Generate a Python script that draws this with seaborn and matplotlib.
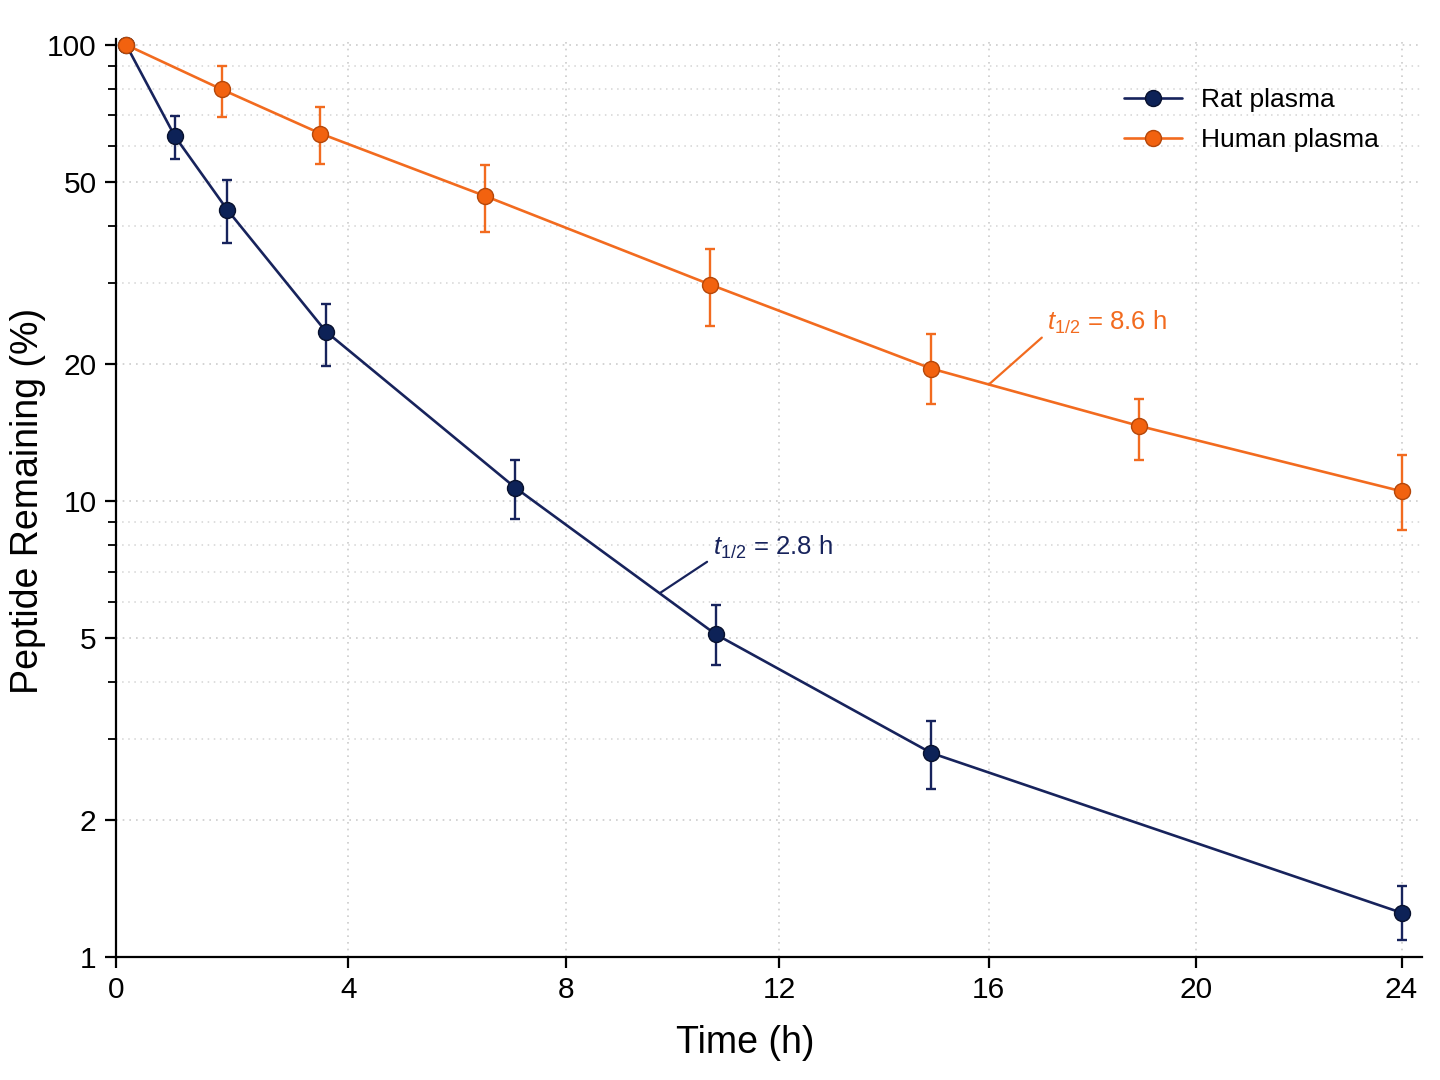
import numpy as np
import pandas as pd
import matplotlib
matplotlib.use("Agg")
from matplotlib import pyplot as plt
from matplotlib.ticker import LogLocator, NullFormatter, FixedLocator, FixedFormatter
import seaborn as sb

# data (time in h, % peptide remaining)
rat_time = [0.15, 0.95, 1.85, 3.6, 7.05, 10.8, 14.9, 24]
rat_mean = [100, 63, 43.5, 23.5, 10.7, 5.1, 2.8, 1.25]
rat_low = [100, 56.2, 36.8, 19.8, 9.15, 4.37, 2.33, 1.09]
rat_high = [100, 69.7, 50.5, 27.0, 12.3, 5.91, 3.30, 1.43]

human_time = [0.15, 1.75, 3.5, 6.5, 10.7, 14.9, 18.9, 24]
human_mean = [100, 79.9, 63.9, 46.6, 29.8, 19.5, 14.6, 10.5]
human_low = [100, 69.4, 54.8, 38.9, 24.2, 16.3, 12.3, 8.63]
human_high = [100, 89.8, 73.2, 54.4, 35.6, 23.2, 16.7, 12.6]

x_ticks = [0, 4, 8, 12, 16, 20, 24]
y_ticks = [1, 2, 5, 10, 20, 50, 100]

# half-life labels and where their leader lines touch the curves
rat_half = "2.8"
human_half = "8.6"
rat_anno_at = (9.75, 6.28)
human_anno_at = (16.0, 18.0)

NAVY = "#17235c"
NAVY_FILL = "#0d2257"
NAVY_EDGE = "#08112e"
ORANGE = "#f26b1f"
ORANGE_FILL = "#f2620f"
ORANGE_EDGE = "#b4470a"

sb.set_style("ticks")
plt.rcParams["font.family"] = ["Liberation Sans", "DejaVu Sans"]
plt.rcParams["mathtext.fontset"] = "custom"
plt.rcParams["mathtext.it"] = "Liberation Sans:italic"
plt.rcParams["mathtext.rm"] = "Liberation Sans"
plt.rcParams["text.color"] = "black"
plt.rcParams["axes.labelcolor"] = "black"
plt.rcParams["xtick.color"] = "black"
plt.rcParams["ytick.color"] = "black"

fig = plt.figure(figsize=(14.4, 10.8), dpi=100)
ax = fig.add_axes([0.0806, 0.1139, 0.9069, 0.850])

rat = pd.DataFrame({"time": rat_time, "mean": rat_mean})
human = pd.DataFrame({"time": human_time, "mean": human_mean})

# error bars first, so markers sit on top
ax.errorbar(rat_time, rat_mean,
            yerr=[np.array(rat_mean) - np.array(rat_low), np.array(rat_high) - np.array(rat_mean)],
            fmt="none", ecolor=NAVY, elinewidth=1.7, capsize=3.6, capthick=1.7, zorder=2)
ax.errorbar(human_time, human_mean,
            yerr=[np.array(human_mean) - np.array(human_low), np.array(human_high) - np.array(human_mean)],
            fmt="none", ecolor=ORANGE, elinewidth=1.7, capsize=3.6, capthick=1.7, zorder=2)

sb.lineplot(x="time", y="mean", data=rat, ax=ax, color=NAVY, lw=1.9, marker="o", markersize=11.5,
            markerfacecolor=NAVY_FILL, markeredgecolor=NAVY_EDGE, markeredgewidth=1.0,
            label="Rat plasma", zorder=3, clip_on=False)
sb.lineplot(x="time", y="mean", data=human, ax=ax, color=ORANGE, lw=1.9, marker="o", markersize=11.5,
            markerfacecolor=ORANGE_FILL, markeredgecolor=ORANGE_EDGE, markeredgewidth=1.0,
            label="Human plasma", zorder=3, clip_on=False)

# axes: log y, slightly compressed x
ax.set_yscale("log")
ax.set_xscale("function", functions=(lambda t: np.power(np.clip(t, 0, None), 0.955),
                                     lambda u: np.power(np.clip(u, 0, None), 1 / 0.955)))
ax.set_xlim(0, 24.4)
ax.set_ylim(1, 103)
ax.xaxis.set_major_locator(FixedLocator(x_ticks))
ax.xaxis.set_major_formatter(FixedFormatter([str(v) for v in x_ticks]))
ax.xaxis.set_minor_locator(FixedLocator([]))
ax.yaxis.set_major_locator(FixedLocator(y_ticks))
ax.yaxis.set_major_formatter(FixedFormatter([str(v) for v in y_ticks]))
ax.yaxis.set_minor_locator(LogLocator(base=10, subs=np.arange(2, 10)))
ax.yaxis.set_minor_formatter(NullFormatter())

ax.grid(which="major", color="#cccccc", ls=(0, (1, 3)), lw=1.2)
ax.grid(which="minor", axis="y", color="#d4d4d4", ls=(0, (1, 3)), lw=1.1)
ax.set_axisbelow(True)

for side in ["top", "right"]:
    ax.spines[side].set_visible(False)
for side in ["left", "bottom"]:
    ax.spines[side].set_linewidth(1.6)
    ax.spines[side].set_color("black")

ax.tick_params(which="major", length=8, width=1.6, labelsize=21.5, pad=6)
ax.tick_params(which="minor", length=6, width=1.3)

ax.set_xlabel("Time (h)", fontsize=27)
ax.set_ylabel("Peptide Remaining (%)", fontsize=27)
ax.xaxis.set_label_coords(0.482, -0.074)
ax.yaxis.set_label_coords(-0.054, 0.497)

# half-life annotations
ax.annotate(r"$t_{1/2}$ = " + rat_half + " h", xy=rat_anno_at, xytext=(38, 33),
            textcoords="offset points", fontsize=18.5, color=NAVY, ha="left", va="center",
            arrowprops=dict(arrowstyle="-", color=NAVY, lw=1.6, shrinkA=2, shrinkB=0, relpos=(0, 0.1)))
ax.annotate(r"$t_{1/2}$ = " + human_half + " h", xy=human_anno_at, xytext=(42, 45),
            textcoords="offset points", fontsize=18.5, color=ORANGE, ha="left", va="center",
            arrowprops=dict(arrowstyle="-", color=ORANGE, lw=1.6, shrinkA=2, shrinkB=0, relpos=(0, 0.1)))

leg = ax.legend(loc="upper right", bbox_to_anchor=(0.985, 0.972), frameon=False, fontsize=19,
                handlelength=2.2, labelspacing=0.6, handletextpad=0.7)

plt.savefig("out.png", dpi=100)
plt.close()
